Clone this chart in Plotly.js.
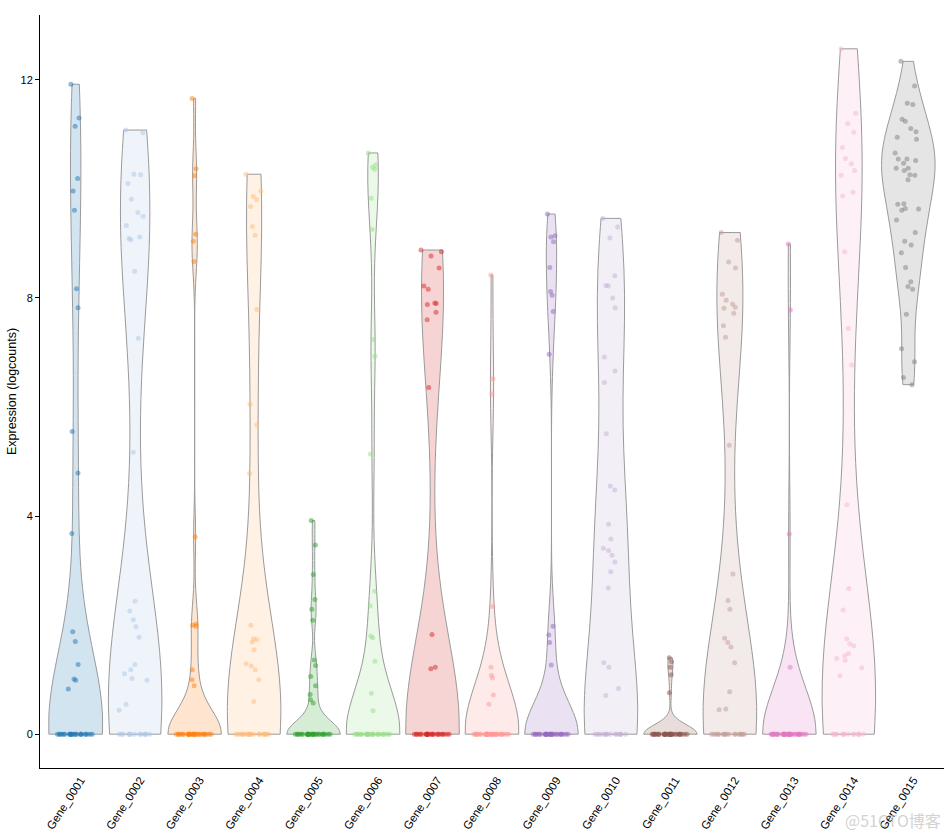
<!DOCTYPE html>
<html>
<head>
<meta charset="utf-8">
<script src="https://cdn.plot.ly/plotly-3.0.1.min.js"></script>
<style>
  html, body { margin: 0; padding: 0; background: #fff; }
  #plot { width: 950px; height: 839px; }
</style>
</head>
<body>
<div id="plot"></div>
<script>
// gene names (x categories)
const genes = ['Gene_0001', 'Gene_0002', 'Gene_0003', 'Gene_0004', 'Gene_0005',
               'Gene_0006', 'Gene_0007', 'Gene_0008', 'Gene_0009', 'Gene_0010',
               'Gene_0011', 'Gene_0012', 'Gene_0013', 'Gene_0014', 'Gene_0015'];

// non-zero logcounts per gene (40 cells each)
const g01 = [11.92, 11.30, 11.15, 10.19, 9.96, 9.61, 8.17, 7.82, 5.55, 4.79, 3.68, 1.88, 1.70, 1.28, 1.01, 0.99, 0.83];
const g02 = [11.08, 11.03, 10.27, 10.26, 10.10, 9.81, 9.57, 9.50, 9.33, 9.12, 9.09, 9.07, 8.49, 7.26, 5.17,
             2.44, 2.26, 2.10, 1.97, 1.78, 1.28, 1.18, 1.11, 1.02, 0.99, 0.55, 0.44];
const g03 = [11.66, 10.37, 10.24, 9.17, 9.04, 8.67, 3.62, 2.02, 2.00, 1.98, 1.18, 1.00, 0.89];
const g04 = [10.27, 9.96, 9.86, 9.80, 9.68, 9.31, 9.15, 7.79, 6.05, 5.67, 4.78, 2.00, 1.75, 1.73, 1.69,
             1.55, 1.29, 1.25, 1.18, 1.00, 0.60];
const g05 = [3.92, 3.47, 2.93, 2.47, 2.29, 2.09, 1.36, 1.26, 1.06, 0.89, 0.73, 0.63, 0.57];
const g06 = [10.66, 10.44, 10.40, 10.36, 9.83, 9.26, 7.24, 6.93, 5.14, 2.62, 2.35, 1.80, 1.77, 1.34, 0.75, 0.43];
const g07 = [8.88, 8.85, 8.77, 8.55, 8.22, 8.16, 7.91, 7.90, 7.88, 7.74, 7.60, 6.36, 1.83, 1.23, 1.20];
const g08 = [8.42, 6.52, 6.24, 2.34, 1.23, 1.08, 1.03, 0.72, 0.55];
const g09 = [9.54, 9.14, 9.12, 9.03, 8.56, 8.12, 8.05, 7.75, 6.97, 1.98, 1.82, 1.68, 1.27];
const g10 = [9.46, 9.30, 9.10, 8.41, 8.23, 8.22, 8.00, 7.82, 6.92, 6.66, 6.45, 5.51, 4.55, 4.48, 3.85,
             3.58, 3.41, 3.37, 3.28, 3.16, 2.98, 2.68, 1.31, 1.23, 0.84, 0.71];
const g11 = [1.40, 1.33, 1.23, 1.09, 0.76];
const g12 = [9.20, 9.06, 8.66, 8.55, 8.07, 7.96, 7.89, 7.83, 7.81, 7.72, 7.49, 7.28, 5.30, 2.94, 2.45,
             2.29, 1.76, 1.68, 1.60, 1.31, 0.78, 0.46, 0.45];
const g13 = [8.99, 7.78, 3.67, 1.23];
const g14 = [12.57, 11.39, 11.20, 11.04, 10.76, 10.56, 10.46, 10.34, 10.25, 9.94, 9.87, 8.85, 7.44, 6.77,
             4.21, 2.67, 2.28, 1.75, 1.66, 1.62, 1.48, 1.44, 1.39, 1.35, 1.22, 1.07];
const g15 = [12.34, 11.89, 11.57, 11.55, 11.28, 11.24, 11.11, 11.05, 10.95, 10.91, 10.66, 10.55, 10.55, 10.52,
             10.47, 10.38, 10.38, 10.34, 10.26, 10.25, 10.17, 9.73, 9.72, 9.64, 9.63, 9.61, 9.43, 9.20,
             9.04, 8.97, 8.83, 8.56, 8.30, 8.21, 8.16, 7.70, 7.07, 6.83, 6.54, 6.41];

// number of cells with zero counts per gene
const zeroCounts = [23, 13, 27, 19, 27, 24, 25, 31, 27, 14, 35, 17, 36, 14, 0];

// tab20 palette
const colors = ['31,119,180', '174,199,232', '255,127,14', '255,187,120', '44,160,44',
                '152,223,138', '214,39,40', '255,152,150', '148,103,189', '197,176,213',
                '140,86,75', '196,156,148', '227,119,194', '247,182,210', '127,127,127'];

const yTicks = [0, 4, 8, 12];

const nonZero = [g01, g02, g03, g04, g05, g06, g07, g08, g09, g10, g11, g12, g13, g14, g15];

// R's bw.nrd0 so the violins come out like ggplot's
function quantile7(sorted, p) {
    const h = (sorted.length - 1) * p;
    const lo = Math.floor(h);
    const hi = Math.min(lo + 1, sorted.length - 1);
    return sorted[lo] + (h - lo) * (sorted[hi] - sorted[lo]);
}

function bwNrd0(vals) {
    const n = vals.length;
    const s = vals.slice().sort((a, b) => a - b);
    const mean = s.reduce((a, b) => a + b, 0) / n;
    const sd = Math.sqrt(s.reduce((a, b) => a + (b - mean) * (b - mean), 0) / (n - 1));
    const iqr = quantile7(s, 0.75) - quantile7(s, 0.25);
    let lo = Math.min(sd, iqr / 1.34);
    if (!lo) lo = sd || Math.abs(s[0]) || 1;
    return 0.9 * lo * Math.pow(n, -0.2);
}

const font = 'Liberation Sans, Arial, sans-serif';

const traces = genes.map((g, i) => {
    const vals = new Array(zeroCounts[i]).fill(0).concat(nonZero[i]);
    return {
        type: 'violin',
        x: vals.map(() => g),
        y: vals,
        name: g,
        width: 0.9,
        scalemode: 'width',
        spanmode: 'hard',
        bandwidth: bwNrd0(vals),
        fillcolor: `rgba(${colors[i]},0.2)`,
        line: { color: '#9a9a9a', width: 1 },
        points: 'all',
        pointpos: 0,
        jitter: 0.7,
        marker: { color: `rgba(${colors[i]},0.5)`, size: 5, line: { width: 0 } },
        hoveron: 'points',
        showlegend: false,
    };
});

const layout = {
    width: 950,
    height: 839,
    margin: { l: 40, r: 6, t: 15, b: 71 },
    paper_bgcolor: '#fff',
    plot_bgcolor: '#fff',
    font: { family: font, color: '#000' },
    violinmode: 'overlay',
    showlegend: false,
    xaxis: {
        type: 'category',
        categoryorder: 'array',
        categoryarray: genes,
        range: [-0.6, 14.6],
        showline: true,
        linecolor: '#000',
        linewidth: 1,
        ticks: '',
        tickangle: -57,
        ticklabelshift: 5,
        tickfont: { size: 11.5, color: '#000' },
        showgrid: false,
        zeroline: false,
        fixedrange: true,
    },
    yaxis: {
        range: [-0.62, 13.19],
        tickvals: yTicks,
        ticktext: yTicks.map(String),
        ticks: 'outside',
        ticklen: 4,
        tickcolor: '#000',
        tickfont: { size: 11, color: '#000' },
        showline: true,
        linecolor: '#000',
        linewidth: 1,
        showgrid: false,
        zeroline: false,
        fixedrange: true,
        title: { text: 'Expression (logcounts)', font: { size: 12.5, color: '#000' }, standoff: 1 },
    },
    annotations: [{
        text: '@51CTO博客',
        xref: 'paper', yref: 'paper',
        x: 0.944, y: -0.069,
        xanchor: 'center', yanchor: 'middle',
        showarrow: false,
        font: { family: 'Noto Sans CJK SC, sans-serif', size: 16, color: 'rgba(190,190,190,0.7)' },
    }],
};

Plotly.newPlot('plot', traces, layout, { displayModeBar: false, staticPlot: true });
</script>
</body>
</html>
